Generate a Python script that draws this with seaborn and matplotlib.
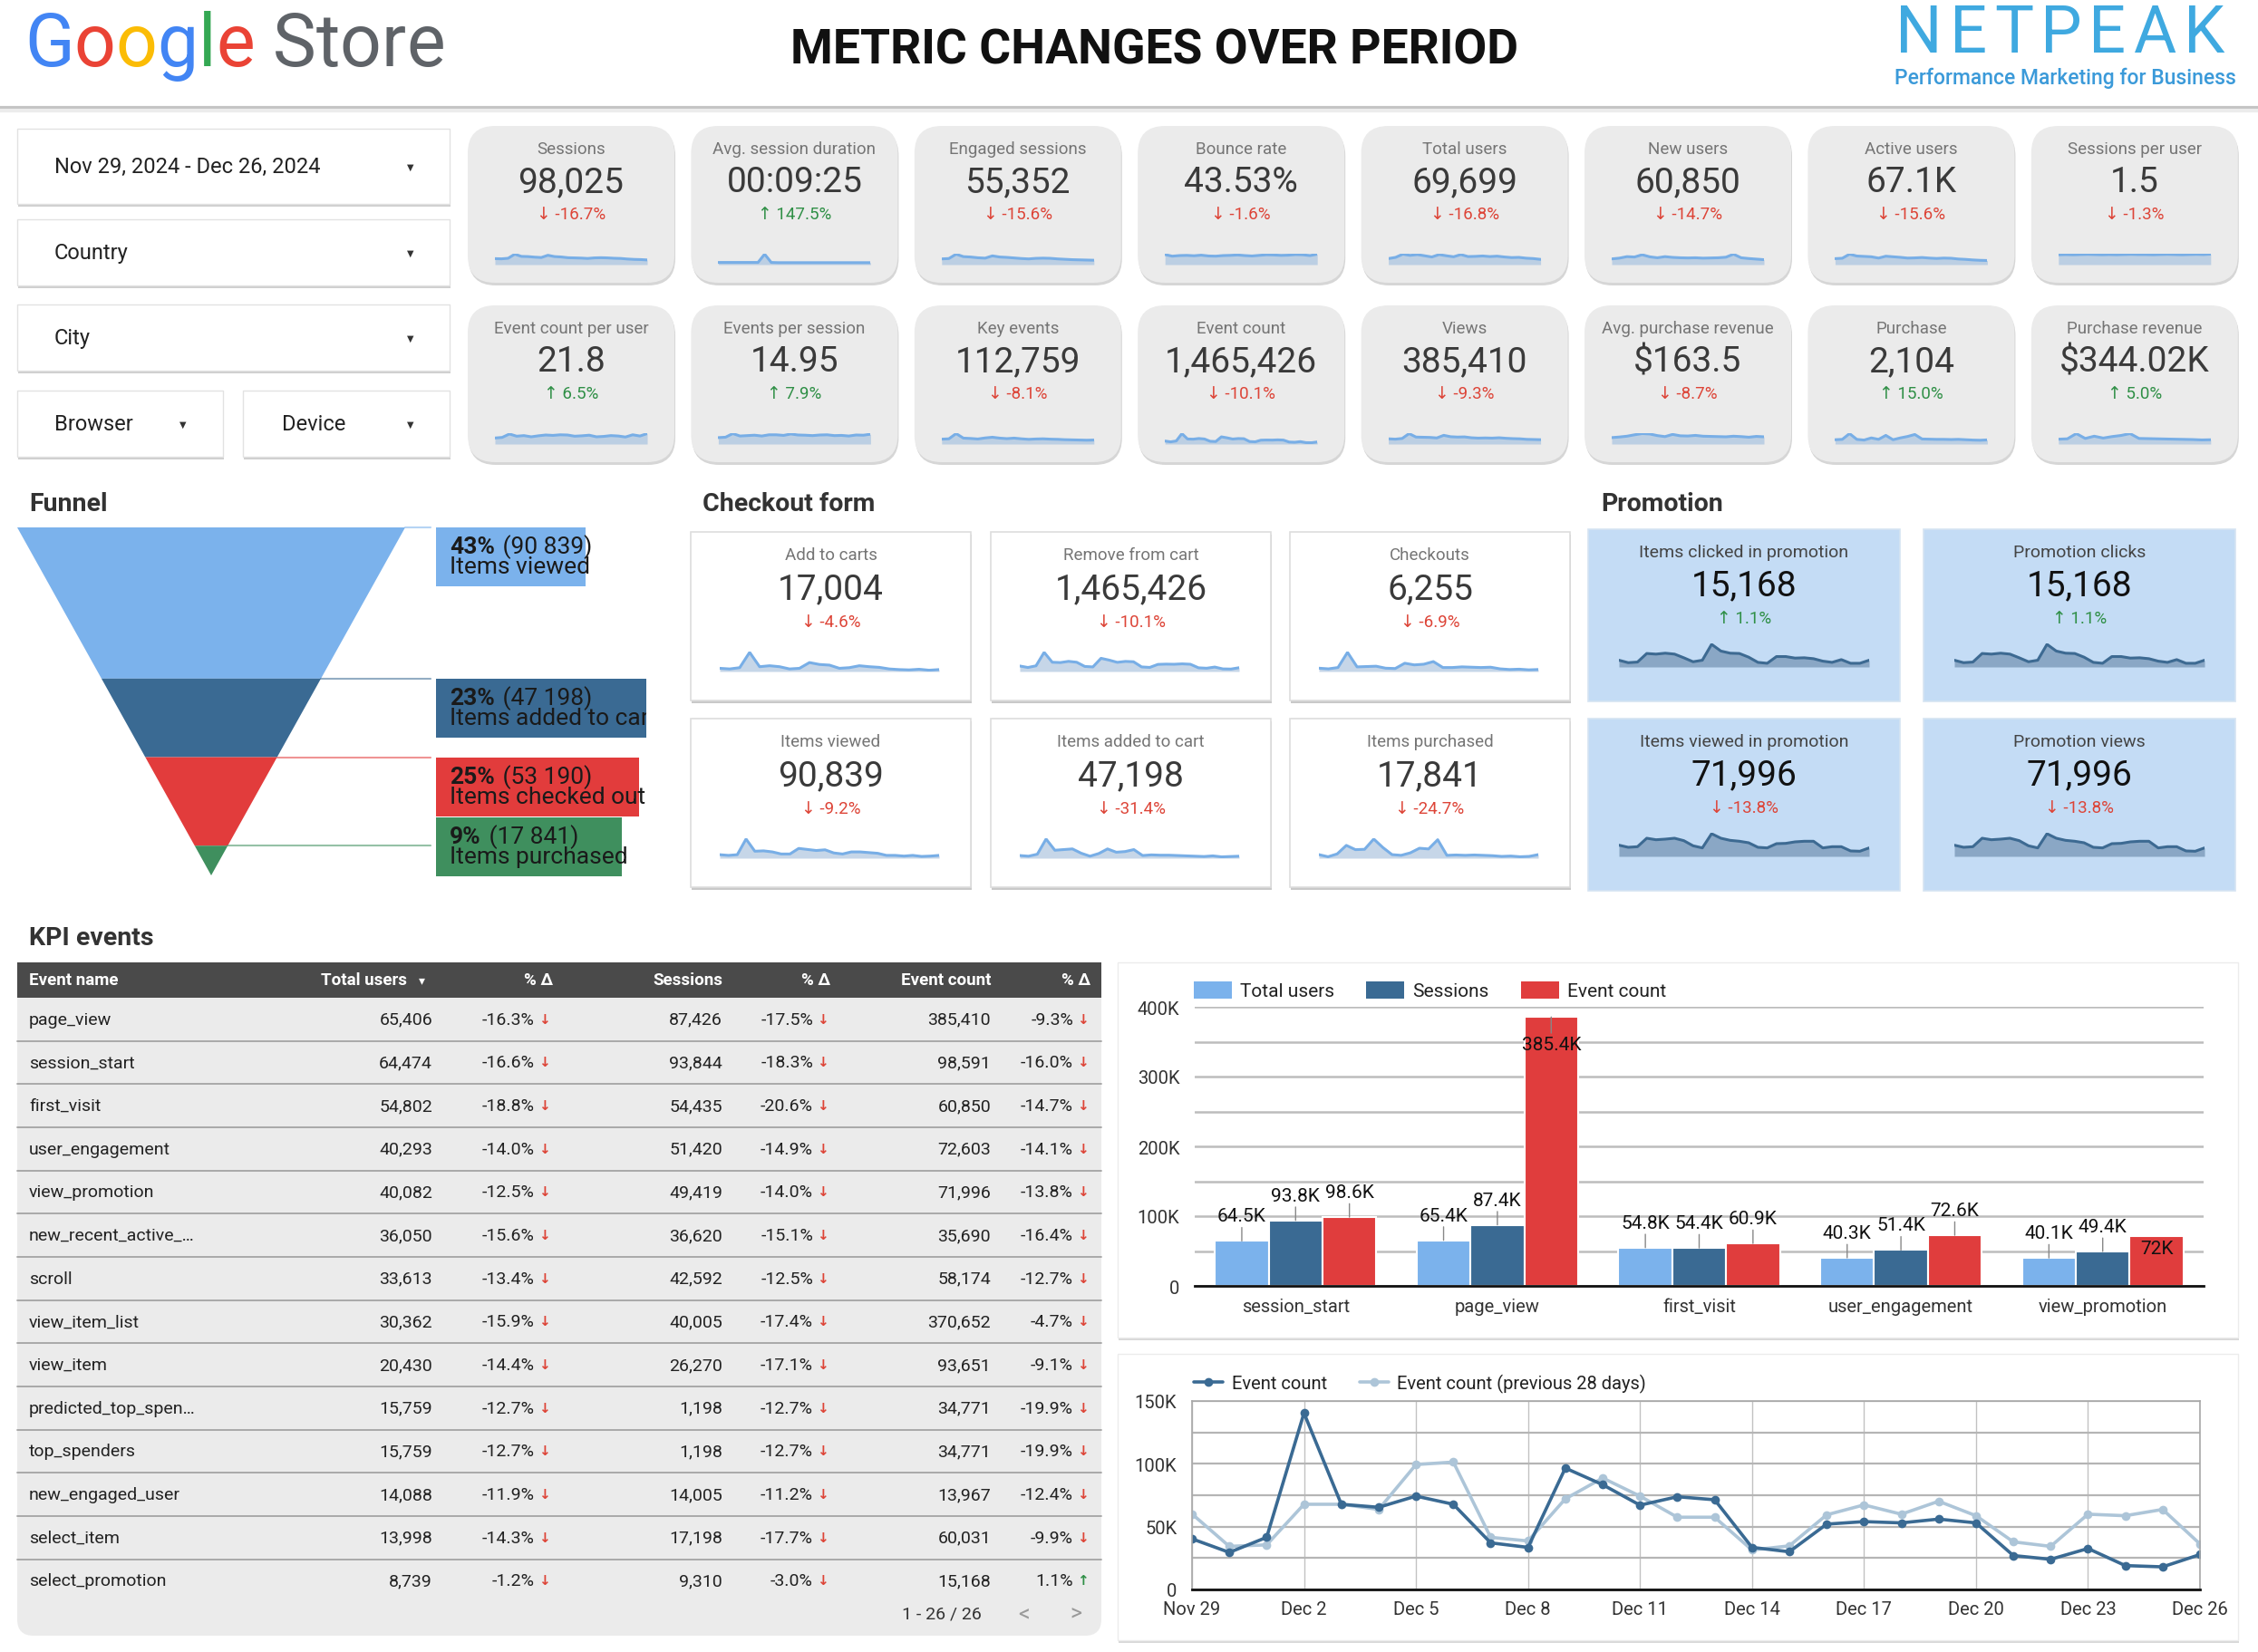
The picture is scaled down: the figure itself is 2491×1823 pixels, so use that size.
import numpy as np
import pandas as pd
import matplotlib
matplotlib.use('Agg')
import matplotlib.pyplot as plt
from matplotlib.patches import FancyBboxPatch, Rectangle, Polygon, Patch
from matplotlib.lines import Line2D
import seaborn as sns

# ---------------- data ----------------
score_titles = ['Sessions', 'Avg. session duration', 'Engaged sessions', 'Bounce rate',
                'Total users', 'New users', 'Active users', 'Sessions per user',
                'Event count per user', 'Events per session', 'Key events', 'Event count',
                'Views', 'Avg. purchase revenue', 'Purchase', 'Purchase revenue']
score_values = ['98,025', '00:09:25', '55,352', '43.53%', '69,699', '60,850', '67.1K', '1.5',
                '21.8', '14.95', '112,759', '1,465,426', '385,410', '$163.5', '2,104', '$344.02K']
score_changes = [-16.7, 147.5, -15.6, -1.6, -16.8, -14.7, -15.6, -1.3,
                 6.5, 7.9, -8.1, -10.1, -9.3, -8.7, 15.0, 5.0]

# daily event count, Nov 29 - Dec 26 (thousands)
event_daily = [40.3, 29.5, 41.5, 140.4, 67.8, 65.4, 74.3, 67.8, 37.1, 33.5, 96.6, 83.4, 67.1, 73.8,
               71.4, 33.5, 30.0, 52.0, 54.0, 53.0, 56.0, 53.0, 27.0, 24.0, 32.6, 19.0, 18.0, 27.8]
event_prev = [60.1, 34.3, 35.5, 67.8, 67.8, 63.7, 99.4, 101.4, 41.5, 38.6, 72.1, 88.7, 74.3, 57.5,
              57.5, 31.4, 34.7, 59.4, 67.3, 59.9, 70.2, 58.7, 37.9, 34.3, 59.9, 58.7, 63.7, 36.2]

sessions_spark = [3.2, 3.1, 3.4, 5.6, 4.4, 4.3, 4.0, 3.8, 5.0, 4.3, 4.1, 3.7, 3.6, 3.5, 3.3, 3.6, 3.7, 3.6, 3.4, 3.3, 3.0, 2.8, 2.7, 2.5]
duration_spark = [1.0, 1.0, 1.0, 1.0, 1.0, 1.0, 1.0, 4.8, 1.0, 0.9, 0.9, 0.9, 0.9, 0.9, 0.9, 0.9, 0.9, 0.9, 0.9, 0.9, 0.9, 0.9, 0.9, 0.9]
engaged_spark = [3.0, 3.2, 5.5, 4.2, 4.0, 3.6, 3.4, 4.6, 4.0, 3.8, 3.5, 3.2, 3.0, 3.3, 3.4, 3.3, 3.0, 2.8, 2.6, 2.5, 2.4, 2.3]
bounce_spark = [5.0, 4.2, 4.5, 4.6, 4.4, 4.7, 4.3, 4.2, 4.5, 4.6, 4.8, 4.5, 4.3, 4.6, 4.9, 4.8, 4.6, 4.7, 5.0, 4.9, 4.5, 5.2]
total_users_spark = [3.0, 3.6, 5.2, 4.6, 5.0, 4.4, 3.8, 5.0, 4.4, 3.9, 5.0, 4.0, 4.1, 4.3, 4.0, 4.2, 3.8, 3.5, 3.6, 3.2, 3.0, 2.6]
new_users_spark = [3.0, 3.4, 4.2, 4.0, 5.2, 4.1, 3.6, 4.2, 3.8, 3.6, 3.5, 3.6, 3.4, 3.5, 3.6, 3.9, 5.5, 3.6, 3.2, 2.9, 2.6]
active_users_spark = [3.2, 3.4, 5.6, 4.6, 4.4, 4.2, 3.5, 4.5, 4.2, 3.9, 3.5, 3.6, 3.8, 3.5, 3.3, 3.5, 3.4, 3.0, 2.8, 2.5, 2.3, 2.2]
spu_spark = [4.8, 4.9, 4.8, 4.9, 5.0, 4.9, 4.8, 4.9, 4.8, 4.9, 5.0, 4.9, 4.9, 4.8, 4.9, 5.0, 4.9, 4.8, 4.9, 5.0, 4.9, 5.1]
ecpu_spark = [3.0, 3.3, 5.0, 3.9, 4.2, 3.6, 4.1, 4.5, 4.3, 4.6, 4.5, 3.9, 4.1, 4.4, 3.6, 3.8, 4.2, 4.0, 3.5, 4.6, 4.0, 5.2]
eps_spark = [3.2, 3.4, 5.2, 4.0, 4.2, 4.4, 4.0, 4.6, 4.6, 4.3, 5.0, 4.5, 4.4, 4.2, 4.5, 4.6, 4.2, 4.3, 4.0, 4.5, 4.4, 4.9]
key_events_spark = [2.8, 3.0, 6.0, 3.4, 3.2, 2.9, 3.5, 3.9, 3.4, 3.1, 3.4, 3.0, 2.7, 2.9, 3.0, 2.8, 2.7, 2.5, 2.4, 2.3, 2.2, 2.3]
views_spark = [3.0, 2.8, 3.2, 6.0, 4.0, 3.9, 3.8, 3.5, 5.0, 4.2, 4.0, 4.1, 3.6, 3.4, 3.5, 3.4, 3.6, 3.3, 3.1, 3.0, 2.7, 2.6, 2.5]
apr_spark = [3.2, 3.5, 3.9, 4.6, 5.2, 5.0, 4.2, 3.7, 4.8, 4.1, 4.0, 4.3, 3.9, 3.8, 3.7, 3.6, 3.9, 3.7, 3.4, 3.8, 3.6]
purchase_spark = [2.4, 2.6, 5.8, 2.6, 2.2, 3.4, 2.6, 4.8, 2.4, 3.4, 4.2, 5.3, 2.8, 2.7, 2.6, 2.6, 2.5, 2.6, 2.4, 2.2, 2.1, 2.3]
revenue_spark = [2.6, 2.8, 5.6, 3.0, 4.2, 3.2, 4.0, 4.6, 5.6, 3.0, 2.9, 2.8, 2.7, 2.6, 2.5, 2.4, 2.2, 2.3]
score_sparks = [sessions_spark, duration_spark, engaged_spark, bounce_spark,
                total_users_spark, new_users_spark, active_users_spark, spu_spark,
                ecpu_spark, eps_spark, key_events_spark, event_daily,
                views_spark, apr_spark, purchase_spark, revenue_spark]

checkout_titles = ['Add to carts', 'Remove from cart', 'Checkouts',
                   'Items viewed', 'Items added to cart', 'Items purchased']
checkout_values = ['17,004', '1,465,426', '6,255', '90,839', '47,198', '17,841']
checkout_changes = [-4.6, -10.1, -6.9, -9.2, -31.4, -24.7]
add_carts_spark = [10, 8, 12, 60, 15, 18, 15, 8, 10, 28, 22, 20, 10, 12, 18, 15, 13, 8, 6, 5, 7, 4, 6]
checkouts_spark = [10, 8, 12, 58, 14, 15, 16, 10, 9, 25, 20, 22, 30, 12, 12, 14, 13, 12, 13, 8, 6, 7, 5, 6]
items_viewed_spark = [10, 8, 10, 55, 20, 21, 18, 12, 12, 28, 25, 22, 24, 15, 12, 18, 18, 16, 14, 8, 8, 6, 8, 5, 6, 8]
items_added_spark = [8, 6, 12, 58, 24, 26, 28, 15, 6, 14, 28, 18, 20, 26, 8, 10, 9, 9, 8, 7, 6, 5, 7, 4, 5, 6]
items_purchased_spark = [10, 4, 12, 36, 24, 25, 54, 30, 10, 8, 15, 28, 26, 52, 8, 9, 8, 9, 8, 7, 5, 6, 4, 5, 10]
checkout_sparks = [add_carts_spark, event_daily, checkouts_spark,
                   items_viewed_spark, items_added_spark, items_purchased_spark]

promo_titles = ['Items clicked in promotion', 'Promotion clicks',
                'Items viewed in promotion', 'Promotion views']
promo_values = ['15,168', '15,168', '71,996', '71,996']
promo_changes = [1.1, 1.1, -13.8, -13.8]
promo_clicks_spark = [22, 14, 16, 44, 42, 45, 42, 30, 17, 22, 74, 52, 45, 44, 32, 15, 12, 34, 34, 29, 30, 27, 19, 15, 24, 12, 12, 22]
promo_views_spark = [37, 30, 32, 60, 55, 57, 60, 52, 35, 28, 75, 60, 53, 50, 45, 30, 28, 42, 43, 48, 50, 50, 28, 32, 32, 18, 17, 28]
promo_sparks = [promo_clicks_spark, promo_clicks_spark, promo_views_spark, promo_views_spark]

funnel_steps = ['Items viewed', 'Items added to cart', 'Items checked out', 'Items purchased']
funnel_values = [90839, 47198, 53190, 17841]

event_names = ['page_view', 'session_start', 'first_visit', 'user_engagement', 'view_promotion',
               'new_recent_active_…', 'scroll', 'view_item_list', 'view_item',
               'predicted_top_spen…', 'top_spenders', 'new_engaged_user', 'select_item',
               'select_promotion']
total_users = [65406, 64474, 54802, 40293, 40082, 36050, 33613, 30362, 20430, 15759, 15759, 14088, 13998, 8739]
total_users_chg = [-16.3, -16.6, -18.8, -14.0, -12.5, -15.6, -13.4, -15.9, -14.4, -12.7, -12.7, -11.9, -14.3, -1.2]
sessions = [87426, 93844, 54435, 51420, 49419, 36620, 42592, 40005, 26270, 1198, 1198, 14005, 17198, 9310]
sessions_chg = [-17.5, -18.3, -20.6, -14.9, -14.0, -15.1, -12.5, -17.4, -17.1, -12.7, -12.7, -11.2, -17.7, -3.0]
event_counts = [385410, 98591, 60850, 72603, 71996, 35690, 58174, 370652, 93651, 34771, 34771, 13967, 60031, 15168]
event_counts_chg = [-9.3, -16.0, -14.7, -14.1, -13.8, -16.4, -12.7, -4.7, -9.1, -19.9, -19.9, -12.4, -9.9, 1.1]

bar_events = ['session_start', 'page_view', 'first_visit', 'user_engagement', 'view_promotion']
bar_metrics = ['Total users', 'Sessions', 'Event count']

# ---------------- styling ----------------
RED = '#dd4437'
GREEN = '#2f8f46'
LIGHT_BLUE = '#7bb2ec'
DARK_BLUE = '#3a6a93'
BAR_RED = '#e03d3d'
FUNNEL_COLORS = ['#7bb2ec', '#3a6a93', '#e23c3c', '#3f8f5e']

sns.set_theme(style='white')
plt.rcParams['font.family'] = ['Roboto', 'DejaVu Sans']
FAM = ['Roboto', 'DejaVu Sans']

W, H = 2491, 1824
fig = plt.figure(figsize=(W / 100, H / 100), dpi=100)
fig.patch.set_facecolor('white')
bg = fig.add_axes([0, 0, 1, 1])
bg.set_xlim(0, W)
bg.set_ylim(H, 0)
bg.axis('off')
renderer = fig.canvas.get_renderer()


def box(x0, y0, x1, y1):
    return [x0 / W, 1 - y1 / H, (x1 - x0) / W, (y1 - y0) / H]


def rounded(x0, y0, w, h, r, fc, ec='none', lw=0, z=1):
    bg.add_patch(FancyBboxPatch((x0, y0), w, h, boxstyle=f'round,pad=0,rounding_size={r}',
                                fc=fc, ec=ec, lw=lw, zorder=z))


def text_w(s, **kw):
    t = bg.text(0, 0, s, **kw)
    w = t.get_window_extent(renderer).width
    t.remove()
    return w


def draw_seq(text, colors, x, y, size, spacing=0, **kw):
    for i, ch in enumerate(text):
        if ch == ' ':
            continue
        xi = x + text_w(text[:i + 1], fontsize=size, **kw) - text_w(ch, fontsize=size, **kw) + i * spacing
        bg.text(xi, y, ch, color=colors[i], fontsize=size, va='baseline', ha='left', **kw)


def spark(x0, y0, x1, y1, vals, line, fill, lw=2.2):
    sax = fig.add_axes(box(x0, y0, x1, y1))
    xs = np.arange(len(vals))
    sax.fill_between(xs, vals, color=fill, lw=0)
    sax.plot(xs, vals, color=line, lw=lw, solid_joinstyle='round')
    sax.set_xlim(0, len(vals) - 1)
    sax.set_ylim(0, max(vals) * 1.04)
    sax.patch.set_alpha(0)
    sax.axis('off')


def change_text(x, y, c, size=13.5):
    arrow = '↑' if c > 0 else '↓'
    bg.text(x, y, f'{arrow} {c:.1f}%', color=GREEN if c > 0 else RED, fontsize=size,
            ha='center', va='center', family=FAM)


# ---------------- header ----------------
bg.add_patch(Rectangle((0, 0), W, 119, fc='white', ec='none', zorder=0))
bg.plot([0, W], [120, 120], color='#c4c4c4', lw=3, zorder=1)
bg.plot([0, W], [123, 123], color='#ececec', lw=3, zorder=1)
g_colors = ['#4285F4', '#EA4335', '#FBBC05', '#4285F4', '#34A853', '#EA4335',
            '#5f6368', '#5f6368', '#5f6368', '#5f6368', '#5f6368', '#5f6368']
draw_seq('Google Store', g_colors, 27, 73, 58)
draw_seq('NETPEAK', ['#3fa9e0'] * 7, 2091, 58, 52, spacing=8)
bg.text(2467, 86, 'Performance Marketing for Business', color='#3b9ad9', fontsize=16.5,
        fontweight='medium', ha='right', va='center')
bg.text(1274, 56, 'METRIC CHANGES OVER PERIOD', fontsize=38.5, fontweight='bold',
        color='#111111', ha='center', va='center')

# ---------------- filters ----------------
filters = [('Nov 29, 2024 - Dec 26, 2024', 19, 143, 496, 226, 453),
           ('Country', 19, 243, 496, 316, 453),
           ('City', 19, 337, 496, 410, 453),
           ('Browser', 19, 432, 246, 505, 202),
           ('Device', 268, 432, 496, 505, 453)]
for label, x0, y0, x1, y1, ax_x in filters:
    bg.add_patch(Rectangle((x0 + 1, y0 + 3), x1 - x0, y1 - y0, fc='#cfcfcf', ec='none', zorder=1))
    bg.add_patch(Rectangle((x0, y0), x1 - x0, y1 - y0, fc='white', ec='#e2e2e2', lw=1, zorder=2))
    bg.text(x0 + 41 if x0 < 100 else x0 + 43, (y0 + y1) / 2, label, fontsize=17, color='#222222',
            ha='left', va='center', zorder=3)
    bg.text(ax_x, (y0 + y1) / 2, '▼', fontsize=7, color='#333333', ha='center', va='center',
            family=FAM, zorder=3)

# ---------------- scorecards ----------------
for i, (t, v, c, sp) in enumerate(zip(score_titles, score_values, score_changes, score_sparks)):
    row, col = divmod(i, 8)
    x0 = 516 + col * 246.4
    y0 = 140 + row * 198
    w, h = 228, 173
    rounded(x0 + 1, y0 + 3, w, h, 30, '#d6d6d6', z=1)
    rounded(x0, y0, w, h, 30, '#ebebeb', z=2)
    cx = x0 + w / 2
    bg.text(cx, y0 + 25, t, fontsize=13.5, color='#757575', ha='center', va='center', zorder=3)
    bg.text(cx, y0 + 62, v, fontsize=28, color='#3a3a3a', ha='center', va='center', zorder=3)
    change_text(cx, y0 + 97, c)
    spark(x0 + 30, y0 + 141, x0 + w - 30, y0 + 153, sp, '#78aee6', '#bccfe3')

# ---------------- section titles ----------------
for label, x, y in [('Funnel', 32, 557), ('Checkout form', 775, 557),
                    ('Promotion', 1766, 557), ('KPI events', 32, 1036)]:
    bg.text(x, y, label, fontsize=20.5, fontweight='bold', color='#333333', ha='left', va='center')

# ---------------- checkout cards ----------------
for i, (t, v, c, sp) in enumerate(zip(checkout_titles, checkout_values, checkout_changes, checkout_sparks)):
    row, col = divmod(i, 3)
    x0 = [762, 1093, 1423][col]
    y0 = [588, 794][row]
    w, h = 309, 186
    bg.add_patch(Rectangle((x0 + 1, y0 + 3), w, h, fc='#c9c9c9', ec='none', zorder=1))
    bg.add_patch(Rectangle((x0, y0), w, h, fc='white', ec='#dddddd', lw=1.2, zorder=2))
    cx = x0 + w / 2
    bg.text(cx, y0 + 25, t, fontsize=13.5, color='#757575', ha='center', va='center', zorder=3)
    bg.text(cx, y0 + 63, v, fontsize=28, color='#3a3a3a', ha='center', va='center', zorder=3)
    change_text(cx, y0 + 99, c)
    spark(x0 + 32, y0 + 132, x0 + w - 35, y0 + 154, sp, '#78aee6', '#c6d6e8')

# ---------------- promotion cards ----------------
for i, (t, v, c, sp) in enumerate(zip(promo_titles, promo_values, promo_changes, promo_sparks)):
    row, col = divmod(i, 2)
    x0 = [1752, 2122][col]
    y0 = [585, 794][row]
    w, h = 344, 190
    bg.add_patch(Rectangle((x0, y0), w, h, fc='#c4dcf5', ec='#d6e4f2', lw=1.2, zorder=2))
    cx = x0 + w / 2
    bg.text(cx, y0 + 25, t, fontsize=14, color='#444444', ha='center', va='center', zorder=3)
    bg.text(cx, y0 + 62, v, fontsize=28, color='#111111', ha='center', va='center', zorder=3)
    change_text(cx, y0 + 98, c)
    spark(x0 + 34, y0 + 126, x0 + w - 34, y0 + 152, sp, '#3d6a92', '#8aa7c5')

# ---------------- funnel ----------------
fax = fig.add_axes(box(0, 560, 713, 990))
fax.set_xlim(0, 713)
fax.set_ylim(990, 560)
fax.axis('off')
fax.patch.set_alpha(0)
top, tip, cx_f, half = 583, 967, 233, 214
label_h = 65
share = np.array(funnel_values) / sum(funnel_values)
bounds = top + np.concatenate([[0], np.cumsum(share)]) * (tip - top)


def hw(y):
    return half * (tip - y) / (tip - top)


for i, (step, val) in enumerate(zip(funnel_steps, funnel_values)):
    ya, yb = bounds[i], bounds[i + 1]
    col = FUNNEL_COLORS[i]
    fax.add_patch(Polygon([(cx_f - hw(ya), ya), (cx_f + hw(ya), ya),
                           (cx_f + hw(yb), yb), (cx_f - hw(yb), yb)], closed=True, fc=col, ec='none'))
    fax.plot([cx_f + hw(ya), 475], [ya, ya], color=col, alpha=0.55, lw=1.5)
    ly = min(ya, tip + 1 - label_h)
    pct = f'{share[i] * 100:.0f}%'
    num = f' ({val:,})'.replace(',', ' ')
    t1 = fax.text(496, ly + 21, pct, fontsize=19, fontweight='bold', color='#1a1a1a', va='center', zorder=4)
    w1 = t1.get_window_extent(renderer).width
    t2 = fax.text(496 + w1 + 2, ly + 21, num, fontsize=19, color='#1a1a1a', va='center', zorder=4)
    w2 = t2.get_window_extent(renderer).width
    t3 = fax.text(496, ly + 43, step, fontsize=19, color='#1a1a1a', va='center', zorder=4)
    w3 = t3.get_window_extent(renderer).width
    for t in (t1, t2, t3):
        t.set_clip_on(True)
        t.set_clip_box(fax.bbox)
    bw = max(w1 + 2 + w2, w3) + 8
    fax.add_patch(Rectangle((481, ly), bw, label_h, fc=col, ec='none', zorder=3))

# ---------------- KPI table ----------------
tx0, tx1 = 19, 1215
hy0, hy1 = 1063, 1102
row_h = 47.66
rounded(tx0, hy0, tx1 - tx0, 1806 - hy0, 18, '#ebebeb', z=1)
bg.add_patch(Rectangle((tx0, hy0), tx1 - tx0, hy1 - hy0, fc='#4a4a4a', ec='none', zorder=2))
hc = (hy0 + hy1) / 2
hdr_kw = dict(fontsize=13.5, fontweight='bold', color='white', va='center', zorder=3)
bg.text(32, hc, 'Event name', ha='left', **hdr_kw)
bg.text(449, hc, 'Total users', ha='right', **hdr_kw)
bg.text(465, hc, '▾', ha='center', fontsize=10, color='white', va='center', family=FAM, zorder=3)
bg.text(610, hc, '% Δ', ha='right', **hdr_kw)
bg.text(797, hc, 'Sessions', ha='right', **hdr_kw)
bg.text(916, hc, '% Δ', ha='right', **hdr_kw)
bg.text(1094, hc, 'Event count', ha='right', **hdr_kw)
bg.text(1203, hc, '% Δ', ha='right', **hdr_kw)

cell_kw = dict(fontsize=14, color='#222222', va='center', zorder=3)
for i, name in enumerate(event_names):
    yc = hy1 + (i + 0.5) * row_h
    bg.text(32, yc, name, ha='left', **cell_kw)
    for val, chg, xv, xc, xa in [(total_users[i], total_users_chg[i], 477, 590, 600),
                                 (sessions[i], sessions_chg[i], 797, 897, 907),
                                 (event_counts[i], event_counts_chg[i], 1093, 1184, 1194)]:
        bg.text(xv, yc, f'{val:,}', ha='right', **cell_kw)
        bg.text(xc, yc, f'{chg:.1f}%', ha='right', **cell_kw)
        bg.text(xa, yc, '↑' if chg > 0 else '↓', ha='center', fontsize=11, fontweight='bold',
                color=GREEN if chg > 0 else RED, va='center', family=FAM, zorder=3)
    if i < len(event_names) - 1:
        bg.plot([tx0, tx1], [hy1 + (i + 1) * row_h] * 2, color='#a3a3a3', lw=1.3, zorder=3)
bg.text(1083, 1782, '1 - 26 / 26', fontsize=14, color='#333333', ha='right', va='center', zorder=3)
bg.text(1130, 1782, '<', fontsize=18, color='#9a9a9a', ha='center', va='center', zorder=3)
bg.text(1187, 1782, '>', fontsize=18, color='#9a9a9a', ha='center', va='center', zorder=3)

# ---------------- chart panels ----------------
for y0, y1 in [(1063, 1477), (1495, 1811)]:
    bg.add_patch(Rectangle((1234, y0 + 3), 1236, y1 - y0, fc='#d8d8d8', ec='none', zorder=1))
    bg.add_patch(Rectangle((1233, y0), 1236, y1 - y0, fc='white', ec='#ececec', lw=1, zorder=2))

# bar chart
kpi = pd.DataFrame({'event': event_names, 'Total users': total_users,
                    'Sessions': sessions, 'Event count': event_counts})
bar_df = kpi.set_index('event').loc[bar_events].reset_index().melt(
    id_vars='event', value_vars=bar_metrics, var_name='metric', value_name='value')
bax = fig.add_axes(box(1318, 1112, 2431, 1420))
sns.barplot(data=bar_df, x='event', y='value', hue='metric', hue_order=bar_metrics,
            palette=[LIGHT_BLUE, DARK_BLUE, BAR_RED], saturation=1, width=0.8,
            edgecolor='white', linewidth=1.5, ax=bax, legend=False)
bax.set_ylim(0, 400000)
yt = np.arange(0, 400001, 50000)
bax.set_yticks(yt)
bax.set_yticklabels(['0' if v == 0 else (f'{v // 1000}K' if v % 100000 == 0 else '') for v in yt])
bax.yaxis.grid(True, color='#bdbdbd', lw=1.8)
bax.set_axisbelow(True)
for s in ['top', 'right', 'left']:
    bax.spines[s].set_visible(False)
bax.spines['bottom'].set_color('#111111')
bax.spines['bottom'].set_linewidth(2)
bax.tick_params(axis='both', length=0, labelsize=14.5, labelcolor='#333333')
bax.tick_params(axis='y', pad=12)
bax.tick_params(axis='x', pad=9)
bax.set_xlabel('')
bax.set_ylabel('')
bax.set_xlim(-0.5, len(bar_events) - 0.5)

inside = {('page_view', 'Event count'): -22, ('view_promotion', 'Event count'): -10}
for metric, cont in zip(bar_metrics, bax.containers):
    for ev, rect in zip(bar_events, cont):
        v = rect.get_height()
        lab = f'{v / 1000:.1f}'.rstrip('0').rstrip('.') + 'K'
        xc = rect.get_x() + rect.get_width() / 2
        if (ev, metric) in inside:
            off = inside[(ev, metric)]
            bax.annotate(lab, xy=(xc, v), xytext=(0, off), textcoords='offset points',
                         ha='center', va='center', fontsize=15, color='#111111',
                         arrowprops=dict(arrowstyle='-', color='#888888', lw=1, shrinkA=0, shrinkB=0)
                         if off < -15 else None)
        else:
            bax.annotate(lab, xy=(xc, v), xytext=(0, 13), textcoords='offset points',
                         ha='center', va='bottom', fontsize=15, color='#111111',
                         arrowprops=dict(arrowstyle='-', color='#888888', lw=1, shrinkA=0, shrinkB=0))

bax.legend(handles=[Patch(fc=c, ec='none', label=m) for m, c in zip(bar_metrics, [LIGHT_BLUE, DARK_BLUE, BAR_RED])],
           loc='lower left', bbox_to_anchor=(-0.001, 1.025), ncol=3, frameon=False, fontsize=15,
           handlelength=2.0, handleheight=1.05, handletextpad=0.45, columnspacing=1.7,
           borderaxespad=0, borderpad=0, labelcolor='#222222')

# line chart
dates = pd.date_range('2024-11-29', periods=len(event_daily))
line_df = pd.DataFrame({'day': np.tile(np.arange(len(dates)), 2),
                        'value': np.array(event_prev + event_daily) * 1000,
                        'series': ['Event count (previous 28 days)'] * len(dates) + ['Event count'] * len(dates)})
lax = fig.add_axes(box(1315, 1547, 2427, 1755))
sns.lineplot(data=line_df, x='day', y='value', hue='series',
             hue_order=['Event count (previous 28 days)', 'Event count'],
             palette=['#adc5d8', DARK_BLUE], marker='o', markersize=7, markeredgewidth=0,
             linewidth=2.6, ax=lax, legend=False)
lax.set_xlim(0, len(dates) - 1)
lax.set_ylim(0, 150000)
xt = np.arange(0, len(dates), 3)
lax.set_xticks(xt)
lax.set_xticklabels([f'{dates[i]:%b} {dates[i].day}' for i in xt])
yt2 = np.arange(0, 150001, 25000)
lax.set_yticks(yt2)
lax.set_yticklabels(['0' if v == 0 else (f'{v // 1000}K' if v % 50000 == 0 else '') for v in yt2])
lax.yaxis.grid(True, color='#b5b5b5', lw=1.6)
lax.xaxis.grid(True, color='#c2c2c2', lw=1.0)
lax.set_axisbelow(True)
for s in ['top', 'right', 'left']:
    lax.spines[s].set_color('#a8a8a8')
    lax.spines[s].set_linewidth(1.2)
lax.spines['bottom'].set_color('#111111')
lax.spines['bottom'].set_linewidth(2)
lax.tick_params(axis='both', length=0, labelsize=14.5, labelcolor='#333333')
lax.tick_params(axis='y', pad=12)
lax.tick_params(axis='x', pad=9)
lax.set_xlabel('')
lax.set_ylabel('')
lax.legend(handles=[Line2D([0], [0], color=DARK_BLUE, lw=2.6, marker='o', markersize=6, label='Event count'),
                    Line2D([0], [0], color='#adc5d8', lw=2.6, marker='o', markersize=6,
                           label='Event count (previous 28 days)')],
           loc='lower left', bbox_to_anchor=(0.002, 1.045), ncol=2, frameon=False, fontsize=14.5,
           handlelength=1.6, handletextpad=0.45, columnspacing=1.8, borderaxespad=0, borderpad=0,
           labelcolor='#222222')

fig.savefig('out.png', dpi=100, facecolor='white')
